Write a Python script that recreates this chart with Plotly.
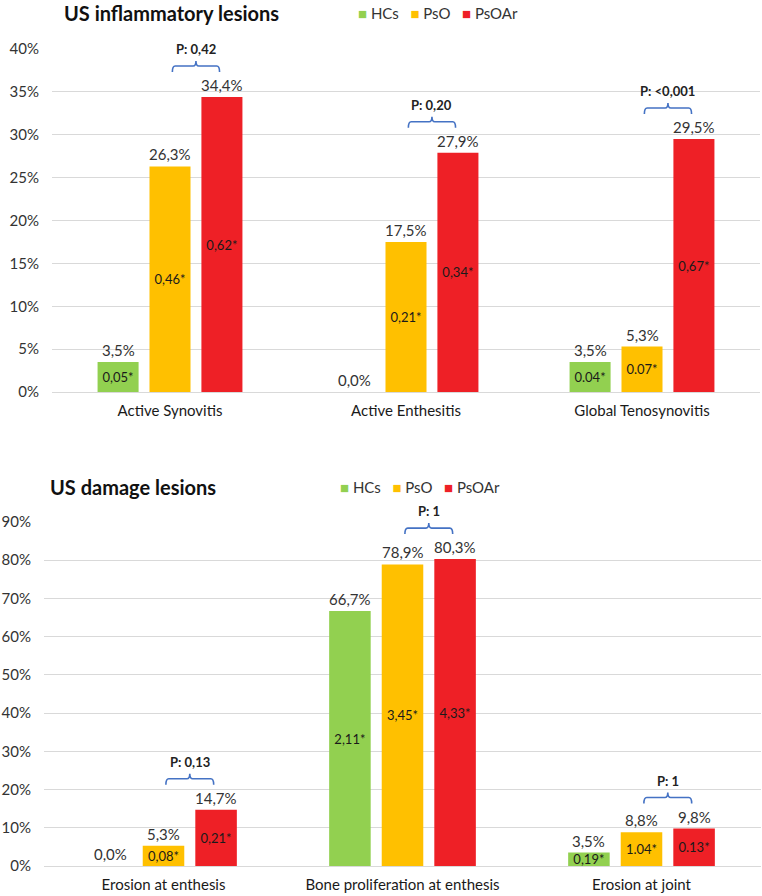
import plotly.graph_objects as go

# ---- data -------------------------------------------------------------
groups = ["HCs", "PsO", "PsOAr"]
colors = ["#92D050", "#FFC000", "#EE2026"]

infl_categories = ["Active Synovitis", "Active Enthesitis", "Global Tenosynovitis"]
infl_hcs = [3.5, 0.0, 3.5]
infl_pso = [26.3, 17.5, 5.3]
infl_psoar = [34.4, 27.9, 29.5]
infl_inner_hcs = ["0,05*", "", "0.04*"]
infl_inner_pso = ["0,46*", "0,21*", "0.07*"]
infl_inner_psoar = ["0,62*", "0,34*", "0,67*"]
infl_pvalues = ["P: 0,42", "P: 0,20", "P: <0,001"]

dmg_categories = ["Erosion at enthesis", "Bone proliferation at enthesis", "Erosion at joint"]
dmg_hcs = [0.0, 66.7, 3.5]
dmg_pso = [5.3, 78.9, 8.8]
dmg_psoar = [14.7, 80.3, 9.8]
dmg_inner_hcs = ["", "2,11*", "0,19*"]
dmg_inner_pso = ["0,08*", "3,45*", "1.04*"]
dmg_inner_psoar = ["0,21*", "4,33*", "0.13*"]
dmg_pvalues = ["P: 0,13", "P: 1", "P: 1"]

# ---- layout constants ------------------------------------------------
W, H = 762, 896
FONT = "Lato"
BARGAP = 0.34
BARGROUPGAP = 0.21
SLOT = (1 - BARGAP) / 3


def pct(v):
    return f"{v:.1f}".replace(".", ",") + "%"


fig = go.Figure()
annotations = []
shapes = []


def add_panel(xa, ya, categories, series, inners, pvalues):
    xs = list(range(len(categories)))
    for i, (name, vals, inner) in enumerate(zip(groups, series, inners)):
        fig.add_trace(go.Bar(
            x=xs, y=vals, name=name, text=inner,
            textposition="inside", insidetextanchor="middle",
            insidetextfont=dict(color="#1a1a1a", size=13, family=FONT),
            marker=dict(color=colors[i], line=dict(width=0)),
            xaxis=xa, yaxis=ya, showlegend=False, hoverinfo="skip",
        ))
        for x, v in zip(xs, vals):
            annotations.append(dict(
                x=x + (i - 1) * SLOT, y=v, xref=xa, yref=ya,
                text=pct(v), showarrow=False, yanchor="bottom", yshift=1,
                font=dict(size=15, color="#333333", family=FONT),
            ))
    # significance brackets between PsO and PsOAr
    d = 0.012
    for x, a, b, p in zip(xs, series[1], series[2], pvalues):
        top = max(a, b)
        xl, xr, xm = x + 0.01, x + SLOT - 0.01, x + SLOT / 2
        path = (f"M{xl},25 Q{xl},31 {xl + d},31 L{xm - d},31 Q{xm},31 {xm},36 "
                f"Q{xm},31 {xm + d},31 L{xr - d},31 Q{xr},31 {xr},25")
        shapes.append(dict(
            type="path", path=path, xref=xa, yref=ya, ysizemode="pixel",
            yanchor=top, line=dict(color="#4472C4", width=1.6),
        ))
        annotations.append(dict(
            x=xm, y=top, xref=xa, yref=ya, text=f"<b>{p}</b>", showarrow=False,
            yanchor="middle", yshift=48,
            font=dict(size=13, color="#222222", family=FONT),
        ))


def legend_text():
    sp = "&nbsp;" * 3
    parts = [f"<span style='color:{c}'>■</span> {g}" for g, c in zip(groups, colors)]
    return sp.join(parts)


add_panel("x", "y", infl_categories,
          [infl_hcs, infl_pso, infl_psoar],
          [infl_inner_hcs, infl_inner_pso, infl_inner_psoar], infl_pvalues)
add_panel("x2", "y2", dmg_categories,
          [dmg_hcs, dmg_pso, dmg_psoar],
          [dmg_inner_hcs, dmg_inner_pso, dmg_inner_psoar], dmg_pvalues)

# titles and legends
for tx, lx, y, title in [(62, 356, 13, "US inflammatory lesions"),
                         (48, 338, 487, "US damage lesions")]:
    annotations.append(dict(x=tx / W, y=1 - y / H, xref="paper", yref="paper",
                            xanchor="left", yanchor="middle", showarrow=False,
                            text=f"<b>{title}</b>",
                            font=dict(size=20, color="#111111", family=FONT)))
    annotations.append(dict(x=lx / W, y=1 - y / H, xref="paper", yref="paper",
                            xanchor="left", yanchor="middle", showarrow=False,
                            text=legend_text(),
                            font=dict(size=15, color="#333333", family=FONT)))

grid = "#D9D9D9"
ytick = dict(ticksuffix="%", showgrid=True, gridcolor=grid, gridwidth=1,
             zeroline=True, zerolinecolor=grid, zerolinewidth=1,
             showline=False, ticks="", ticklabelstandoff=12,
             tickfont=dict(size=15, color="#333333", family=FONT),
             automargin=False, fixedrange=True)
xtick = dict(tickvals=[0, 1, 2], range=[-0.5, 2.5], showgrid=False,
             zeroline=False, showline=False, ticks="", ticklabelstandoff=8,
             tickfont=dict(size=15, color="#1a1a1a", family=FONT),
             automargin=False, fixedrange=True)

fig.update_layout(
    width=W, height=H, autosize=False,
    margin=dict(l=0, r=0, t=0, b=0),
    paper_bgcolor="white", plot_bgcolor="white",
    barmode="group", bargap=BARGAP, bargroupgap=BARGROUPGAP,
    uniformtext=dict(minsize=13, mode="show"),
    font=dict(family=FONT, color="#333333"),
    xaxis=dict(xtick, domain=[52 / W, 760 / W], ticktext=infl_categories, anchor="y"),
    yaxis=dict(ytick, domain=[1 - 392 / H, 1 - 49 / H], range=[0, 40], dtick=5, anchor="x"),
    xaxis2=dict(xtick, domain=[44 / W, 761 / W], ticktext=dmg_categories, anchor="y2"),
    yaxis2=dict(ytick, domain=[1 - 866 / H, 1 - 522 / H], range=[0, 90], dtick=10, anchor="x2"),
    annotations=annotations,
    shapes=shapes,
)

fig.write_html("out.html", config={"displayModeBar": False},
               post_script="document.body.style.margin='0';")
